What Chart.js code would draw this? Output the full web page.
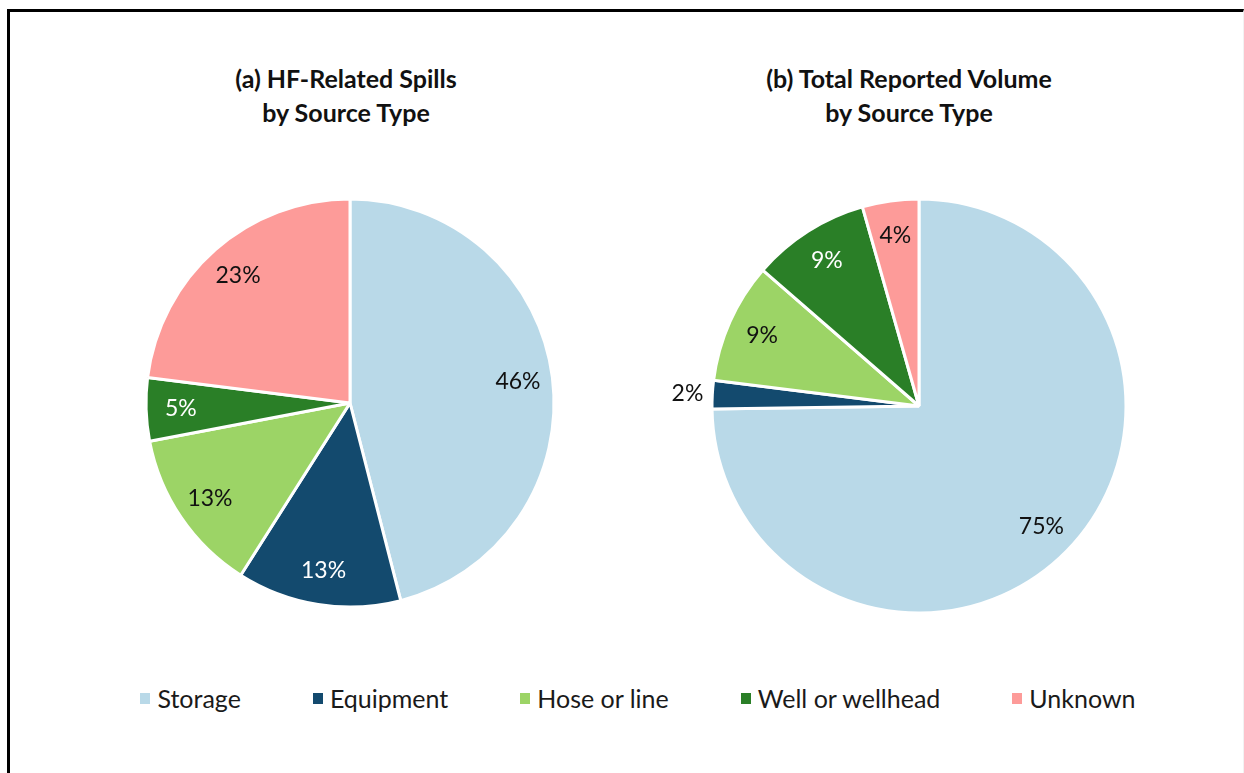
<!DOCTYPE html>
<html>
<head>
<meta charset="utf-8">
<title>HF spills by source type</title>
<script src="https://cdn.jsdelivr.net/npm/chart.js@4.4.1/dist/chart.umd.min.js"></script>
<style>
    html, body { margin: 0; padding: 0; background: #fff; }
    #frame {
        position: relative;
        width: 1244px;
        height: 773px;
        overflow: hidden;
        font-family: Lato, 'Noto Sans', sans-serif;
    }
    /* thick black rule on the left and top, faint on the right */
    #border {
        position: absolute;
        left: 7px; top: 9px; right: 0; bottom: -10px;
        border-left: 3px solid #000;
        border-top: 3px solid #000;
        border-right: 1px solid #f2f2f2;
    }
    .title {
        position: absolute;
        top: 61px;
        width: 420px;
        text-align: center;
        font-weight: bold;
        font-size: 25px;
        line-height: 34px;
        color: #111;
    }
    .pie { position: absolute; }
    #legend {
        position: absolute;
        left: 32px; right: 0; top: 683px;
        display: flex;
        justify-content: center;
        gap: 72px;
        font-size: 25px;
        color: #1a1a1a;
    }
    .item { display: flex; align-items: center; white-space: nowrap; }
    .swatch { width: 10px; height: 11px; margin-right: 7px; }
</style>
</head>
<body>
<div id="frame">
    <div id="border"></div>
    <div class="title" style="left:136px">(a) HF-Related Spills<br>by Source Type</div>
    <div class="title" style="left:699px">(b) Total Reported Volume<br>by Source Type</div>
    <canvas id="pieSpills" class="pie" width="500" height="500" style="left:100px; top:153px"></canvas>
    <canvas id="pieVolume" class="pie" width="500" height="500" style="left:669px; top:156px"></canvas>
    <div id="legend"></div>
</div>

<script>
// Source types (same order in both pies)
const categories = ['Storage', 'Equipment', 'Hose or line', 'Well or wellhead', 'Unknown'];

// (a) share of HF-related spills, %
const spillShares = [46, 13, 13, 5, 23];

// (b) share of total reported volume, %
const volumeShares = [74.7, 2.2, 9.4, 9.2, 4.4];

const sliceColors = ['#b9d9e8', '#134a6e', '#9cd466', '#2a7f27', '#fd9b99'];
const labelColors = ['#111', '#fff', '#111', '#fff', '#111'];

// Draws "NN%" on every slice; very thin slices get their label outside
const percentLabels = {
    id: 'percentLabels',
    afterDatasetsDraw(chart) {
        const ctx = chart.ctx;
        const values = chart.data.datasets[0].data;
        const total = values.reduce((a, b) => a + b, 0);
        chart.getDatasetMeta(0).data.forEach((arc, i) => {
            const { x, y, startAngle, endAngle, outerRadius } = arc.getProps(['x', 'y', 'startAngle', 'endAngle', 'outerRadius'], true);
            const share = values[i] / total * 100;
            const mid = (startAngle + endAngle) / 2;
            const outside = share < 3;
            const r = outerRadius * (outside ? 1.12 : 0.83);
            ctx.save();
            ctx.font = '23px Lato, sans-serif';
            ctx.textAlign = 'center';
            ctx.textBaseline = 'middle';
            ctx.fillStyle = outside ? '#111' : labelColors[i];
            ctx.fillText(Math.round(values[i]) + '%', x + Math.cos(mid) * r, y + Math.sin(mid) * r);
            ctx.restore();
        });
    }
};

function makePie(canvasId, values, radius) {
    return new Chart(document.getElementById(canvasId), {
        type: 'pie',
        data: {
            labels: categories,
            datasets: [{
                data: values,
                backgroundColor: sliceColors,
                borderColor: '#ffffff',
                borderWidth: 3
            }]
        },
        options: {
            responsive: false,
            animation: false,
            radius: radius,
            layout: { padding: 0 },
            plugins: {
                legend: { display: false },
                tooltip: { enabled: false }
            }
        },
        plugins: [percentLabels]
    });
}

makePie('pieSpills', spillShares, 204);
makePie('pieVolume', volumeShares, 207);

// Shared legend under both pies
const legendEl = document.getElementById('legend');
categories.forEach((name, i) => {
    const item = document.createElement('div');
    item.className = 'item';
    item.innerHTML = `<span class="swatch" style="background:${sliceColors[i]}"></span><span>${name}</span>`;
    legendEl.appendChild(item);
});
</script>
</body>
</html>
